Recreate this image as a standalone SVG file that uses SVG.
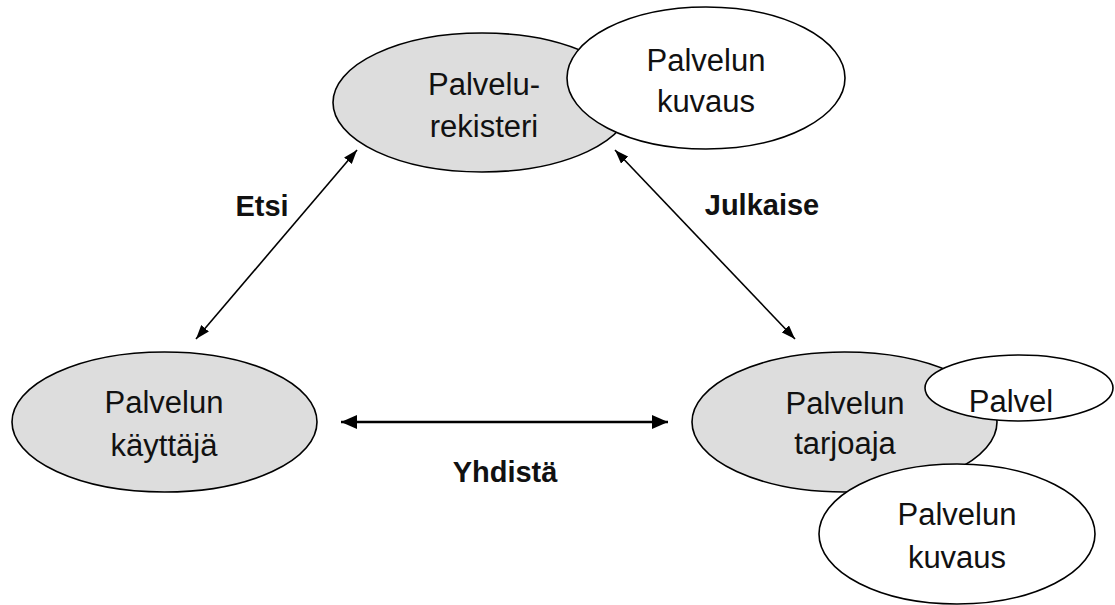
<svg xmlns="http://www.w3.org/2000/svg" width="1115" height="605" viewBox="0 0 1115 605">
  <style>
    .role { fill: #dddddd; stroke: #000; stroke-width: 1.6; }
    .doc { fill: #ffffff; stroke: #000; stroke-width: 1.6; }
    .lbl { font-family: "Liberation Sans", Arial, sans-serif; font-size: 31px; fill: #111; text-anchor: middle; }
    .op { font-family: "Liberation Sans", Arial, sans-serif; font-size: 29px; font-weight: bold; fill: #111; text-anchor: middle; }
    .link { stroke: #000; stroke-width: 1.6; fill: none; }
    .link-wide { stroke: #000; stroke-width: 2.4; fill: none; }
  </style>
  <defs>
    <marker id="head" viewBox="0 0 14 10" refX="14" refY="5" markerWidth="14" markerHeight="10" markerUnits="userSpaceOnUse" orient="auto-start-reverse">
      <path d="M0,0 L14,5 L0,10 z" fill="#000"/>
    </marker>
    <marker id="head-wide" viewBox="0 0 16 14" refX="16" refY="7" markerWidth="16" markerHeight="14" markerUnits="userSpaceOnUse" orient="auto-start-reverse">
      <path d="M0,0 L16,7 L0,14 z" fill="#000"/>
    </marker>
  </defs>

  <!-- connectors -->
  <g id="connectors">
    <line class="link" x1="357" y1="150" x2="196" y2="339" marker-start="url(#head)" marker-end="url(#head)"/>
    <line class="link" x1="615" y1="150" x2="795" y2="339" marker-start="url(#head)" marker-end="url(#head)"/>
    <line class="link-wide" x1="341" y1="422" x2="668" y2="422" marker-start="url(#head-wide)" marker-end="url(#head-wide)"/>
    <text class="op" x="262" y="216">Etsi</text>
    <text class="op" x="762" y="215">Julkaise</text>
    <text class="op" x="505" y="482">Yhdistä</text>
  </g>

  <!-- registry with its description -->
  <g id="registry">
    <ellipse class="role" cx="482" cy="102.5" rx="149" ry="69.5"/>
    <text class="lbl" x="484" y="95">Palvelu-</text>
    <text class="lbl" x="484" y="137">rekisteri</text>
  </g>
  <g id="registry-description">
    <ellipse class="doc" cx="706" cy="78" rx="139" ry="71"/>
    <text class="lbl" x="706" y="71">Palvelun</text>
    <text class="lbl" x="706" y="112">kuvaus</text>
  </g>

  <!-- service user -->
  <g id="user">
    <ellipse class="role" cx="164.5" cy="422" rx="152.5" ry="70"/>
    <text class="lbl" x="164" y="413">Palvelun</text>
    <text class="lbl" x="164" y="456">käyttäjä</text>
  </g>

  <!-- service provider -->
  <g id="provider">
    <ellipse class="role" cx="844.5" cy="422" rx="152.5" ry="70"/>
    <text class="lbl" x="845" y="414">Palvelun</text>
    <text class="lbl" x="845" y="454">tarjoaja</text>
  </g>
  <g id="provider-service">
    <ellipse class="doc" cx="1019" cy="388" rx="94" ry="33"/>
    <text class="lbl" x="1011" y="412">Palvel</text>
  </g>
  <g id="provider-description">
    <ellipse class="doc" cx="957" cy="534" rx="138" ry="70"/>
    <text class="lbl" x="957" y="525">Palvelun</text>
    <text class="lbl" x="957" y="568">kuvaus</text>
  </g>
</svg>
